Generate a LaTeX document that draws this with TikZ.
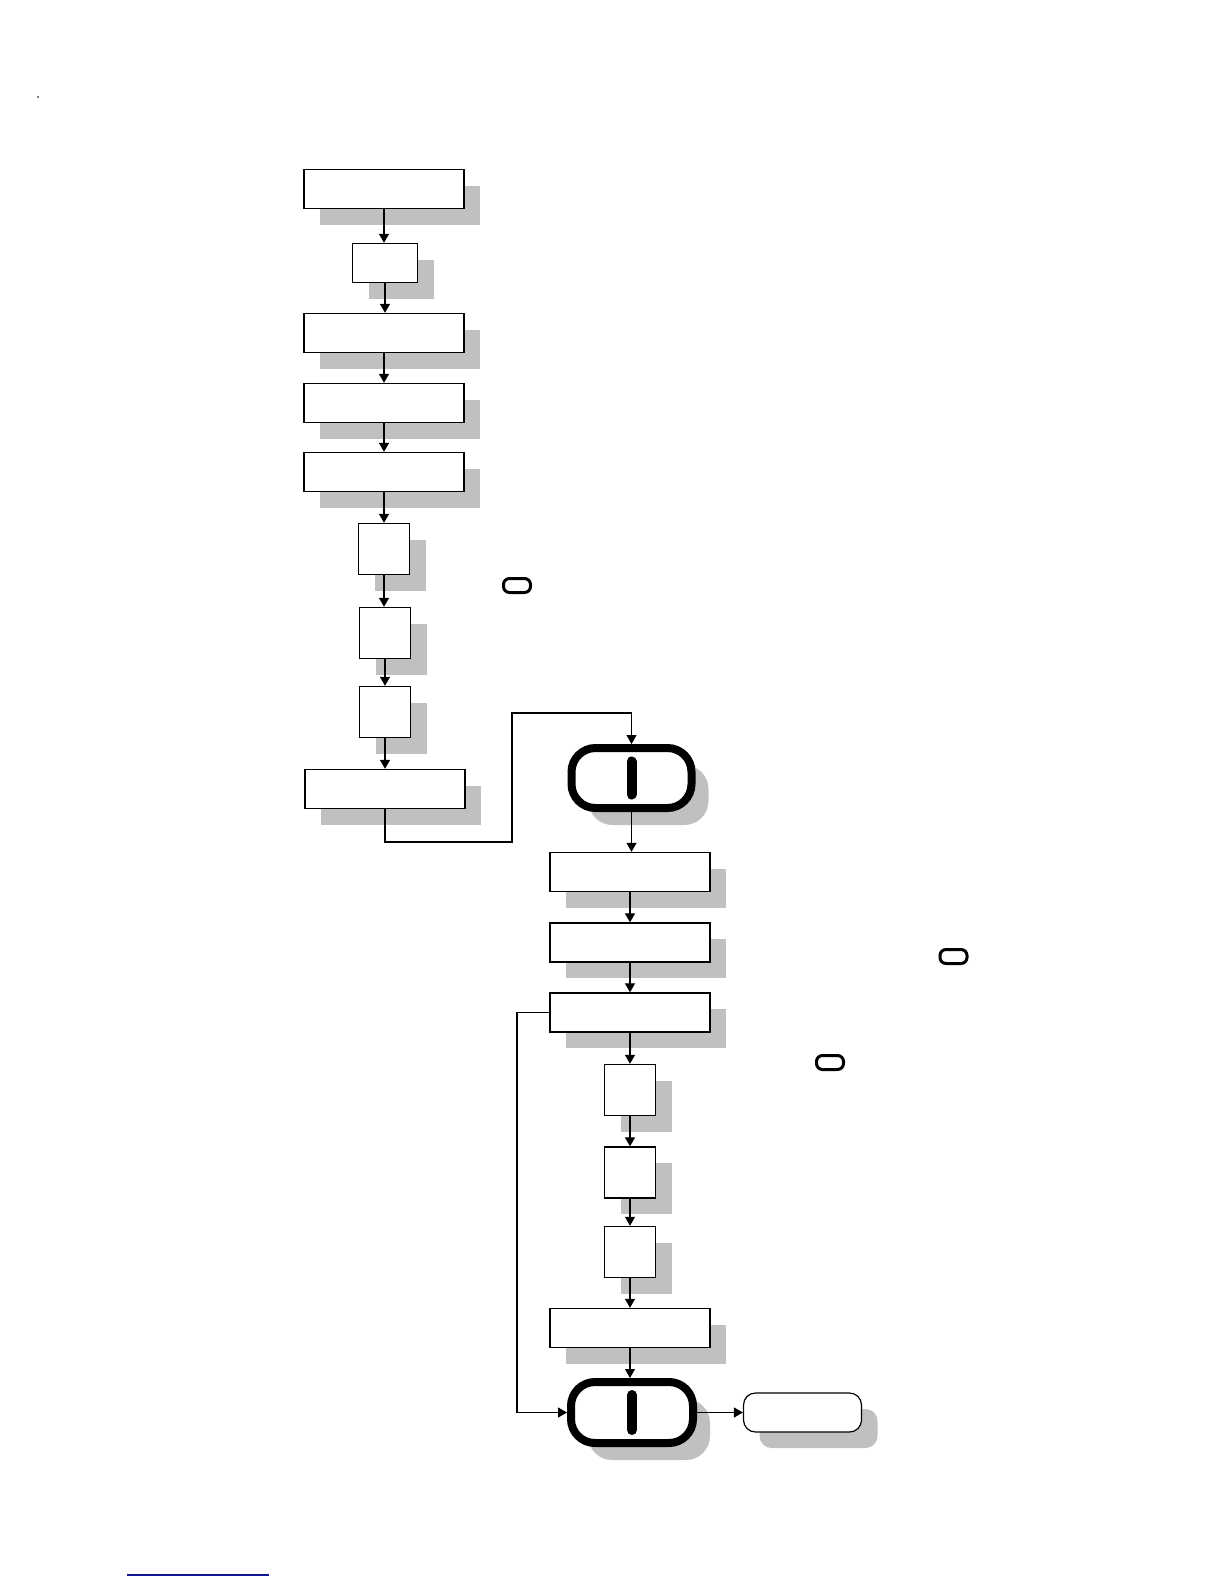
\documentclass[tikz,border=0pt]{standalone}
\usepackage{tikz}
\usetikzlibrary{positioning, arrows.meta, calc, shadows}

\definecolor{shadowgray}{RGB}{192,192,192}
\definecolor{rulenavy}{RGB}{20,20,150}

\begin{document}
\begin{tikzpicture}[
    x=1pt, y=-1pt,
    shd/.style={drop shadow={shadow xshift=16pt, shadow yshift=-16pt,
                fill=shadowgray, opacity=1}},
    box/.style={draw, fill=white, line width=1.4pt, inner sep=0pt, shd},
    wide/.style={box, minimum width=160pt, minimum height=39pt},
    narrow/.style={box, minimum width=65pt, minimum height=39pt},
    square/.style={box, minimum width=51pt, minimum height=51pt},
    bigoval/.style={draw, fill=white, line width=8pt, rounded corners=24pt,
                    minimum width=120pt, minimum height=60pt, inner sep=0pt,
                    drop shadow={shadow xshift=17pt, shadow yshift=-17pt,
                    fill=shadowgray, opacity=1}},
    smalloval/.style={draw, line width=3pt, rounded corners=6pt,
                      minimum width=27pt, minimum height=14pt, inner sep=0pt},
    termbox/.style={draw, fill=white, line width=1.2pt, rounded corners=12pt,
                    minimum width=118pt, minimum height=39pt, inner sep=0pt, shd},
    bar/.style={line width=10pt, line cap=round},
    arrow/.style={-{Triangle[length=9pt, width=10pt]}, line width=1.2pt},
]
\useasboundingbox (0,0) rectangle (1224,1584);

% ── First column ─────────────────────────────────────────────────────────
\foreach \n/\s/\x/\y in {b1/wide/384/189, b2/narrow/385/263,
    b3/wide/384/333, b4/wide/384/403, b5/wide/384/472,
    b6/square/384/549, b7/square/385/633, b8/square/385/712,
    b9/wide/385/789} {
    \node[\s] (\n) at (\x,\y) {};
}
\foreach \a/\b in {b1/b2, b2/b3, b3/b4, b4/b5, b5/b6, b6/b7, b7/b8, b8/b9} {
    \draw[arrow] (\a.south) -- (\a.south |- \b.north);
}

% ── Loose marks ──────────────────────────────────────────────────────────
\node[smalloval] (m1) at (517,585.5) {};
\node[smalloval] (m2) at (953.5,956.5) {};
\node[smalloval] (m3) at (830,1062.5) {};

% ── First oval, fed from b9 ──────────────────────────────────────────────
\node[bigoval] (ov1) at (631.5,778) {};
\draw[bar] ($(ov1.center)+(0,-16.5)$) -- ($(ov1.center)+(0,16.5)$);
\coordinate (j1) at (512,842);
\coordinate (j2) at (512,713);
\draw[arrow] (b9.south) |- (j1) -- (j2) -| (ov1.north);

% ── Second column ────────────────────────────────────────────────────────
\foreach \n/\s/\y in {c1/wide/872, c2/wide/942.5, c3/wide/1012.5,
    c4/square/1090, c5/square/1172.5, c6/square/1252, c7/wide/1328} {
    \node[\s] (\n) at (630,\y) {};
}
\draw[arrow] (ov1.south) -- (ov1.south |- c1.north);
\foreach \a/\b in {c1/c2, c2/c3, c3/c4, c4/c5, c5/c6, c6/c7} {
    \draw[arrow] (\a.south) -- (\a.south |- \b.north);
}

% ── Second oval and end ──────────────────────────────────────────────────
\node[bigoval, minimum width=122pt, minimum height=61pt] (ov2) at (632,1412.5) {};
\draw[bar] ($(ov2.center)+(0,-17.5)$) -- ($(ov2.center)+(0,17.5)$);
\draw[arrow] (c7.south) -- (c7.south |- ov2.north);
\coordinate (j3) at (517,1012.5);
\draw[arrow] (c3.west) -- (j3) |- (ov2.west);
\node[termbox] (end) at (802.5,1412.5) {};
\draw[arrow] (ov2.east) -- (end.west);

% page marks
\fill (38,97) circle (0.9);
\draw[rulenavy, line width=1.2pt] (127,1575) -- (269,1575);

\end{tikzpicture}
\end{document}
